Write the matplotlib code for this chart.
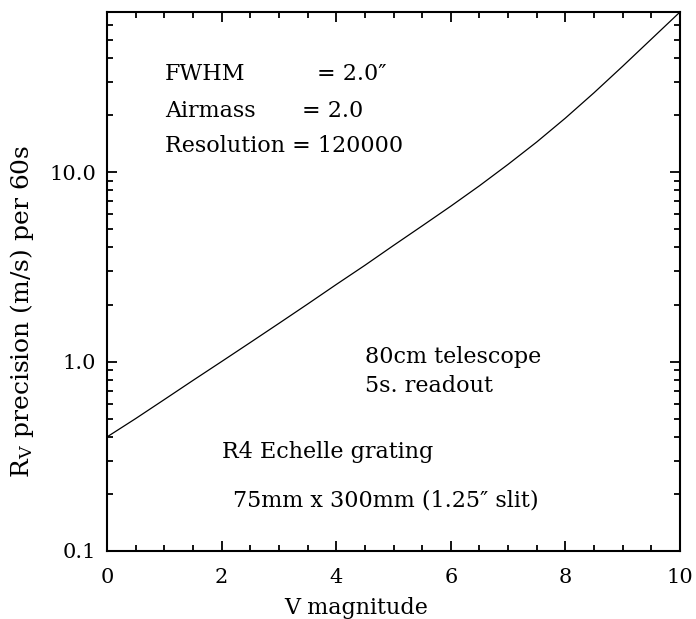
import matplotlib
matplotlib.use("Agg")
import matplotlib.pyplot as plt
from matplotlib.ticker import LogLocator, NullFormatter, MultipleLocator

# Data
v_mag = [0, 0.5, 1, 1.5, 2, 2.5, 3, 3.5, 4, 4.5, 5, 5.5, 6, 6.5, 7, 7.5, 8, 8.5, 9, 9.5, 10]
rv_precision = [0.40, 0.50, 0.63, 0.795, 1.00, 1.26, 1.59, 2.01, 2.55, 3.22, 4.10, 5.20,
                6.61, 8.47, 10.99, 14.42, 19.28, 26.24, 36.22, 50.35, 70.0]
y_ticks = [0.1, 1.0, 10.0]
y_tick_labels = ["0.1", "1.0", "10.0"]
x_ticks = [0, 2, 4, 6, 8, 10]

plt.rcParams['font.family'] = ['DejaVu Serif']
plt.rcParams['mathtext.fontset'] = 'dejavuserif'

fig = plt.figure(figsize=(6.96, 6.19), dpi=100)
ax = fig.add_axes([107/696, 1 - 551/619, (680-107)/696, (551-12)/619])

ax.plot(v_mag, rv_precision, color='black', lw=0.9)
ax.set_yscale('log')
ax.set_xlim(0, 10)
ax.set_ylim(0.1, 70)

ax.set_xticks(x_ticks)
ax.set_xticklabels([str(t) for t in x_ticks])
ax.xaxis.set_minor_locator(MultipleLocator(0.5))
ax.set_yticks(y_ticks)
ax.set_yticklabels(y_tick_labels)
ax.yaxis.set_minor_locator(LogLocator(base=10, subs=[2, 3, 4, 5, 6, 7, 8, 9]))
ax.yaxis.set_minor_formatter(NullFormatter())

ax.tick_params(which='both', direction='in', top=True, right=True, width=1.3, colors='black')
ax.tick_params(which='major', length=7.5)
ax.tick_params(which='minor', length=4)
ax.tick_params(axis='x', which='major', pad=12, labelsize=15)
ax.tick_params(axis='y', which='major', pad=8, labelsize=15)
for s in ax.spines.values():
    s.set_linewidth(1.5)

ax.set_xlabel("V magnitude", fontsize=16)
ax.xaxis.set_label_coords((356 - 107) / 573, -0.085)
ax.set_ylabel(r"R$_\mathrm{V}$ precision (m/s) per 60s", fontsize=18)
ax.yaxis.set_label_coords(-0.124, (551 - 311) / 539)

def fx(px):
    return (px - 107) / (680 - 107)

def fy(py):
    return (551 - py) / (551 - 12)

ts = 16
ax.text(fx(165), fy(80), "FWHM", transform=ax.transAxes, fontsize=ts, va='baseline')
ax.text(fx(317), fy(80), "= 2.0\u2033", transform=ax.transAxes, fontsize=ts, va='baseline')
ax.text(fx(165), fy(117), "Airmass", transform=ax.transAxes, fontsize=ts, va='baseline')
ax.text(fx(302), fy(117), "= 2.0", transform=ax.transAxes, fontsize=ts, va='baseline')
ax.text(fx(165), fy(152), "Resolution = 120000", transform=ax.transAxes, fontsize=ts, va='baseline')
ax.text(fx(365), fy(363), "80cm telescope", transform=ax.transAxes, fontsize=ts, va='baseline')
ax.text(fx(365), fy(392), "5s. readout", transform=ax.transAxes, fontsize=ts, va='baseline')
ax.text(fx(222), fy(458), "R4 Echelle grating", transform=ax.transAxes, fontsize=ts, va='baseline')
ax.text(fx(233), fy(507), "75mm x 300mm (1.25\u2033 slit)", transform=ax.transAxes, fontsize=ts, va='baseline')

fig.savefig("out.png", dpi=100, facecolor='white')
